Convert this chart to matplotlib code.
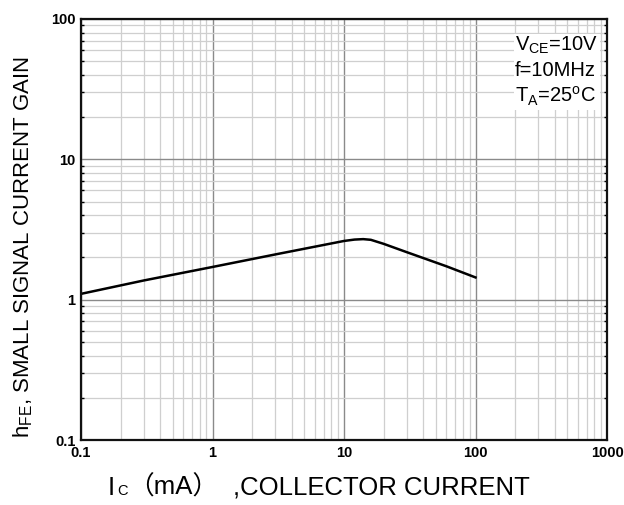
import matplotlib
matplotlib.use("Agg")
import matplotlib.pyplot as plt
from matplotlib.ticker import LogLocator, FixedLocator, FixedFormatter, NullFormatter

# hFE vs collector current
ic_ma = [0.1, 0.3, 1, 3, 10, 12, 14, 16, 20, 30, 60, 100]
hfe = [1.10, 1.37, 1.71, 2.10, 2.62, 2.68, 2.70, 2.67, 2.50, 2.18, 1.73, 1.44]

x_ticks = [0.1, 1, 10, 100, 1000]
x_labels = ["0.1", "1", "10", "100", "1000"]
y_ticks = [0.1, 1, 10, 100]
y_labels = ["0.1", "1", "10", "100"]

plt.rcParams['font.family'] = ['Liberation Sans', 'Noto Sans CJK SC', 'DejaVu Sans']
plt.rcParams['mathtext.fontset'] = 'custom'
plt.rcParams['mathtext.rm'] = 'Liberation Sans'
plt.rcParams['mathtext.it'] = 'Liberation Sans'

fig = plt.figure(figsize=(6.24, 5.05), dpi=100)
ax = fig.add_axes([0.1298, 0.1287, 0.843, 0.8337])

ax.set_xscale('log')
ax.set_yscale('log')
ax.set_xlim(0.1, 1000)
ax.set_ylim(0.1, 100)

ax.xaxis.set_major_locator(FixedLocator(x_ticks))
ax.xaxis.set_major_formatter(FixedFormatter(x_labels))
ax.yaxis.set_major_locator(FixedLocator(y_ticks))
ax.yaxis.set_major_formatter(FixedFormatter(y_labels))
ax.xaxis.set_minor_locator(LogLocator(base=10, subs=range(2, 10), numticks=20))
ax.yaxis.set_minor_locator(LogLocator(base=10, subs=range(2, 10), numticks=20))
ax.xaxis.set_minor_formatter(NullFormatter())
ax.yaxis.set_minor_formatter(NullFormatter())

ax.grid(which='major', color='#8a8a8a', linewidth=1.0)
ax.grid(which='minor', color='#cfcfcf', linewidth=0.9)
ax.set_axisbelow(True)

ax.tick_params(which='both', direction='in', left=True, right=True, top=False, bottom=False)
ax.tick_params(which='major', length=0, pad=4, labelsize=10.5)
ax.tick_params(which='minor', length=2.5, width=1.0)
for lbl in ax.get_xticklabels() + ax.get_yticklabels():
    lbl.set_fontweight('bold')

for s in ax.spines.values():
    s.set_linewidth(1.6)
    s.set_color('#111111')

ax.plot(ic_ma, hfe, color='black', linewidth=1.8)

fig.text(0.037, 0.51, r"h$_{\mathregular{FE}}$, SMALL SIGNAL CURRENT GAIN",
         fontsize=16, rotation=90, ha='center', va='center')

# x label: "I" full size, "C" smaller on the baseline, then the rest
W = fig.bbox.width
renderer = fig.canvas.get_renderer()
base_y = 0.02
t1 = fig.text(108 / W, base_y, "I", fontsize=18.5, ha='left', va='baseline')
x1 = t1.get_window_extent(renderer).x1 / W
t2 = fig.text(x1 + 0.004, base_y, "C", fontsize=10.5, ha='left', va='baseline')
x2 = t2.get_window_extent(renderer).x1 / W
fig.text(x2, base_y, "\uff08mA\uff09", fontsize=18.5, ha='left', va='baseline')
fig.text(530 / W, base_y, ",COLLECTOR CURRENT", fontsize=18.5, ha='right', va='baseline')

ax.text(0.825, 0.962,
        "V$_{\\mathregular{CE}}$=10V\nf=10MHz\nT$_{\\mathregular{A}}$=25$^{\\mathregular{o}}$C",
        transform=ax.transAxes, fontsize=14.5, ha='left', va='top', linespacing=1.3,
        bbox=dict(facecolor='white', edgecolor='none', pad=1))

fig.savefig("out.png", dpi=100)
